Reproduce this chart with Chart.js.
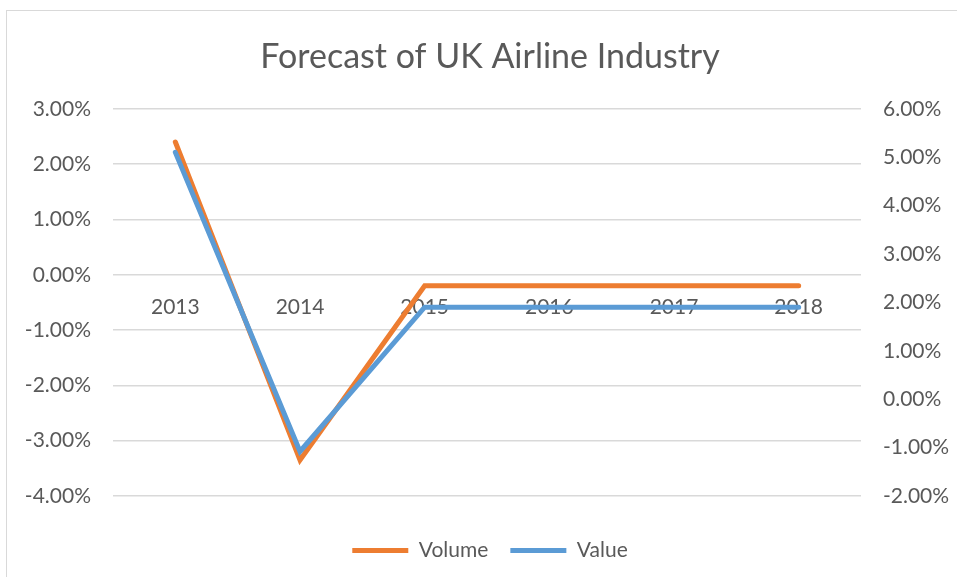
<!DOCTYPE html>
<html>
<head>
<meta charset="utf-8">
<script src="https://cdn.jsdelivr.net/npm/chart.js@4"></script>
<style>
  html, body { margin: 0; padding: 0; background: #fff; overflow: hidden; }
  #wrap { position: relative; width: 957px; height: 577px; overflow: hidden; }
  #frame { position: absolute; left: 6px; top: 10px; width: 990px; height: 600px;
           border-left: 1.5px solid #d9d9d9; border-top: 1.5px solid #d9d9d9; }
  canvas { position: absolute; left: 0; top: 0; }
</style>
</head>
<body>
<div id="wrap">
  <div id="frame"></div>
  <canvas id="myChart" width="980" height="577"></canvas>
</div>
<script>
const years = ['2013', '2014', '2015', '2016', '2017', '2018'];
const volume = [2.4, -3.35, -0.2, -0.2, -0.2, -0.2];
const value = [5.1, -1.08, 1.9, 1.9, 1.9, 1.9];
const leftTicks = { min: -4, max: 3, step: 1 };
const rightTicks = { min: -2, max: 6, step: 1 };

const font = 'Lato';
const grey = '#595959';

const ctx = document.getElementById('myChart');

new Chart(ctx, {
  type: 'line',
  data: {
    labels: years,
    datasets: [{
      label: 'Volume',
      data: volume,
      yAxisID: 'y',
      borderColor: '#ED7D31',
      backgroundColor: '#ED7D31',
      borderWidth: 5,
      borderCapStyle: 'round',
      borderJoinStyle: 'miter',
      pointRadius: 0,
      order: 2
    }, {
      label: 'Value',
      data: value,
      yAxisID: 'y1',
      borderColor: '#5B9BD5',
      backgroundColor: '#5B9BD5',
      borderWidth: 5,
      borderCapStyle: 'round',
      borderJoinStyle: 'miter',
      pointRadius: 0,
      order: 1
    }]
  },
  options: {
    responsive: false,
    animation: false,
    layout: {
      padding: { top: 0, bottom: 6, left: 0, right: 0 }
    },
    plugins: {
      title: {
        display: true,
        text: 'Forecast of UK Airline Industry',
        color: grey,
        font: { family: font, size: 34, weight: 'normal' },
        padding: { top: 37, bottom: 31 }
      },
      legend: {
        position: 'bottom',
        title: {
          display: true,
          text: ' ',
          font: { size: 10 },
          padding: { top: 0, bottom: 10 }
        },
        labels: {
          color: grey,
          font: { family: font, size: 21 },
          usePointStyle: true,
          pointStyle: 'line',
          pointStyleWidth: 56,
          boxHeight: 21,
          padding: 22,
          sort: (a, b) => a.datasetIndex - b.datasetIndex
        }
      },
      tooltip: { enabled: false }
    },
    scales: {
      x: {
        position: { y: 0 },
        offset: true,
        grid: { display: false },
        border: { display: false },
        ticks: {
          color: grey,
          font: { family: font, size: 21 },
          padding: 12,
          maxRotation: 0
        }
      },
      y: {
        position: 'left',
        min: leftTicks.min,
        max: leftTicks.max,
        border: { display: false },
        grid: { color: '#d9d9d9', lineWidth: 1.5, drawTicks: false },
        ticks: {
          stepSize: leftTicks.step,
          color: grey,
          font: { family: font, size: 21 },
          padding: 22,
          callback: v => v.toFixed(2) + '%'
        },
        afterFit: s => { s.width = 113; }
      },
      y1: {
        position: 'right',
        min: rightTicks.min,
        max: rightTicks.max,
        border: { display: false },
        grid: { drawOnChartArea: false, drawTicks: false },
        ticks: {
          stepSize: rightTicks.step,
          color: grey,
          font: { family: font, size: 21 },
          padding: 22,
          callback: v => v.toFixed(2) + '%'
        },
        afterFit: s => { s.width = 119; }
      }
    }
  }
});
</script>
</body>
</html>
